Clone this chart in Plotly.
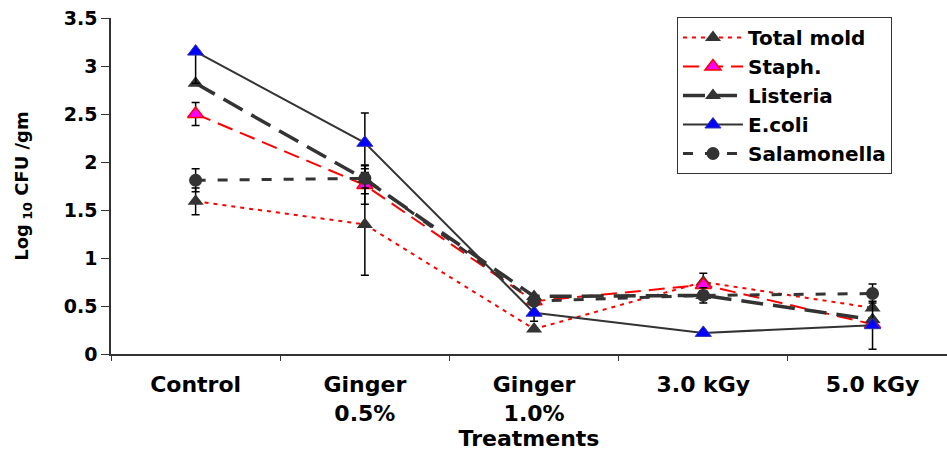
import plotly.graph_objects as go

# Treatments on the x axis
treatments = ["Control", "Ginger<br>0.5%", "Ginger<br>1.0%", "3.0 kGy", "5.0 kGy"]

# Log10 CFU/gm for each organism
total_mold = [1.59, 1.35, 0.26, 0.75, 0.48]
staph = [2.50, 1.76, 0.55, 0.72, 0.31]
listeria = [2.82, 1.82, 0.60, 0.61, 0.36]
ecoli = [3.15, 2.20, 0.43, 0.22, 0.30]
salmonella = [1.81, 1.83, 0.55, 0.61, 0.63]

# Error bar half-widths (upper / lower)
total_mold_err = [0.14, 0.53, 0.0, 0.09, 0.0]
staph_err = [0.12, 0.20, 0.0, 0.0, 0.0]
listeria_err = [0.0, 0.15, 0.0, 0.0, 0.0]
ecoli_err_up = [0.0, 0.31, 0.0, 0.0, 0.25]
ecoli_err_down = [0.33, 0.31, 0.09, 0.0, 0.25]
salmonella_err = [0.12, 0.10, 0.0, 0.08, 0.10]

DARK = "#333333"
FONT = "DejaVu Sans"


def err(up, down=None):
    d = dict(type="data", array=up, color="black", thickness=1.5, width=4, visible=True)
    if down is not None:
        d["symmetric"] = False
        d["arrayminus"] = down
    return d


fig = go.Figure()

fig.add_trace(go.Scatter(
    x=treatments, y=total_mold, name="Total mold", mode="lines+markers",
    line=dict(color="#ff0000", width=2, dash="4px,5px"),
    marker=dict(symbol="triangle-up", size=14, color=DARK),
    error_y=err(total_mold_err),
))
fig.add_trace(go.Scatter(
    x=treatments, y=staph, name="Staph.", mode="lines+markers",
    line=dict(color="#ff0000", width=2, dash="16px,8px"),
    marker=dict(symbol="triangle-up", size=14, color="#ff00ff",
                line=dict(color="#ff0000", width=1.5)),
    error_y=err(staph_err),
))
fig.add_trace(go.Scatter(
    x=treatments, y=listeria, name="Listeria", mode="lines+markers",
    line=dict(color=DARK, width=3.5, dash="22px,10px"),
    marker=dict(symbol="triangle-up", size=14, color=DARK),
    error_y=err(listeria_err),
))
fig.add_trace(go.Scatter(
    x=treatments, y=ecoli, name="E.coli", mode="lines+markers",
    line=dict(color=DARK, width=2),
    marker=dict(symbol="triangle-up", size=14, color="#0000ff",
                line=dict(color="#3333aa", width=1)),
    error_y=err(ecoli_err_up, ecoli_err_down),
))
fig.add_trace(go.Scatter(
    x=treatments, y=salmonella, name="Salamonella", mode="lines+markers",
    line=dict(color=DARK, width=3, dash="10px,12px"),
    marker=dict(symbol="circle", size=13, color=DARK),
    error_y=err(salmonella_err),
))

fig.update_layout(
    width=947, height=452,
    margin=dict(l=111, r=0, t=18, b=98),
    paper_bgcolor="white", plot_bgcolor="white",
    font=dict(family=FONT, color="black", size=19, weight="bold"),
    showlegend=True,
    legend=dict(
        x=0.677, y=1.003, xanchor="left", yanchor="top",
        bgcolor="white", bordercolor=DARK, borderwidth=1,
        font=dict(family=FONT, size=20, color="black", weight="bold"),
        itemwidth=60, tracegroupgap=0,
    ),
    xaxis=dict(
        type="category", range=[-0.5, 4.44],
        showline=True, linecolor=DARK, linewidth=1.5,
        ticks="outside", tickson="boundaries", ticklen=5, tickcolor=DARK,
        ticklabelstandoff=10,
        tickfont=dict(family=FONT, size=22, weight="bold"),
        showgrid=False, zeroline=False,
        title=dict(text="Treatments", standoff=0,
                   font=dict(family=FONT, size=22, weight="bold")),
    ),
    yaxis=dict(
        range=[0, 3.5],
        tickvals=[0, 0.5, 1, 1.5, 2, 2.5, 3, 3.5],
        ticktext=["0", "0.5", "1", "1.5", "2", "2.5", "3", "3.5"],
        showline=True, linecolor=DARK, linewidth=1.5,
        ticks="outside", ticklen=8, tickcolor=DARK,
        tickfont=dict(family=FONT, size=19, weight="bold"),
        showgrid=False, zeroline=False,
        title=dict(text="Log<sub> 10</sub> CFU /gm", standoff=30,
                   font=dict(family=FONT, size=18, weight="bold")),
    ),
)

fig.write_html("out.html")
